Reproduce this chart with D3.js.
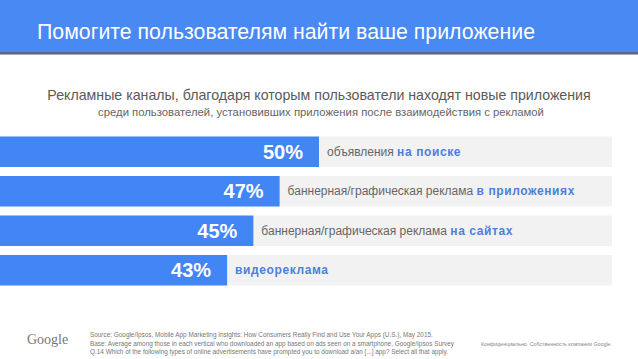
<!DOCTYPE html>
<html><head><meta charset="utf-8">
<script src="https://cdn.jsdelivr.net/npm/d3@7"></script>
<style>html,body{margin:0;padding:0;background:#fff;overflow:hidden}</style>
</head><body>
<svg id="chart" width="638" height="359"></svg>
<script>
const values = [50, 47, 45, 43];
const labelPlain = ["объявления ", "баннерная/графическая реклама ", "баннерная/графическая реклама ", ""];
const labelHighlight = ["на поиске", "в приложениях", "на сайтах", "видеореклама"];
const valueLabels = ["50%", "47%", "45%", "43%"];
const title = "Помогите пользователям найти ваше приложение";
const subtitle1 = "Рекламные каналы, благодаря которым пользователи находят новые приложения";
const subtitle2 = "среди пользователей, установивших приложения после взаимодействия с рекламой";
const sourceLines = [
  "Source: Google/Ipsos, Mobile App Marketing Insights: How Consumers Really Find and Use Your Apps (U.S.), May 2015.",
  "Base: Average among those in each vertical who downloaded an app based on ads seen on a smartphone, Google/Ipsos Survey",
  "Q.14 Which of the following types of online advertisements have prompted you to download a/an [...] app? Select all that apply."
];
const confidential = "Конфиденциально. Собственность компании Google.";

const svg = d3.select("#chart");
const font = "Arial, 'Liberation Sans', Helvetica, sans-serif";

// header
svg.append("rect").attr("x",0).attr("y",0).attr("width",638).attr("height",52).attr("fill","#4889f4");
svg.append("rect").attr("x",0).attr("y",52).attr("width",638).attr("height",2).attr("fill","#56698b");
svg.append("rect").attr("x",0).attr("y",54).attr("width",638).attr("height",1).attr("fill","#a4abb4");
svg.append("text").attr("x",37).attr("y",39).attr("font-family",font).attr("font-size",21.3)
  .attr("fill","#fff").text(title);

svg.append("text").attr("x",319).attr("y",99.5).attr("text-anchor","middle").attr("font-family",font)
  .attr("font-size",14.2).attr("fill","#5a5a5a").text(subtitle1);
svg.append("text").attr("x",321).attr("y",116).attr("text-anchor","middle").attr("font-family",font)
  .attr("font-size",11.3).attr("fill","#666").text(subtitle2);

// scales
const x = d3.scaleLinear().domain([25.7, 50]).range([0, 319]);
const y = d3.scaleBand().domain(d3.range(values.length)).range([136.5, 285.5]).paddingInner(0.228).paddingOuter(0);

const rows = svg.append("g").selectAll("g").data(values).join("g")
  .attr("transform",(d,i)=>`translate(0,${y(i)})`);

rows.append("rect").attr("x",0).attr("width",612).attr("height",y.bandwidth()).attr("fill","#f2f2f2");
rows.append("rect").attr("x",0).attr("width",d=>x(d)).attr("height",y.bandwidth()).attr("fill","#4285f4");
rows.append("text").attr("x",d=>x(d)-16).attr("y",y.bandwidth()/2+7).attr("text-anchor","end")
  .attr("font-family",font).attr("font-size",20).attr("font-weight","bold").attr("fill","#fff")
  .text((d,i)=>valueLabels[i]);

const lbl = rows.append("text").attr("x",d=>x(d)+8).attr("y",y.bandwidth()/2+4)
  .attr("font-family",font).attr("font-size",12);
lbl.append("tspan").attr("fill","#666").text((d,i)=>labelPlain[i]);
lbl.append("tspan").attr("fill","#4a80dc").attr("font-weight","bold").attr("letter-spacing",0.6)
  .text((d,i)=>labelHighlight[i]);

// footer
svg.append("text").attr("x",27).attr("y",344).attr("font-family","'Liberation Serif', 'DejaVu Serif', serif")
  .attr("font-size",14).attr("fill","#777").text("Google");
svg.append("g").selectAll("text").data(sourceLines).join("text")
  .attr("x",90).attr("y",(d,i)=>337+i*8.5).attr("font-family",font).attr("font-size",6.4)
  .attr("fill","#777").text(d=>d);
svg.append("text").attr("x",612).attr("y",346).attr("text-anchor","end").attr("font-family",font)
  .attr("font-size",5.3).attr("fill","#888").text(confidential);
</script>
</body></html>
